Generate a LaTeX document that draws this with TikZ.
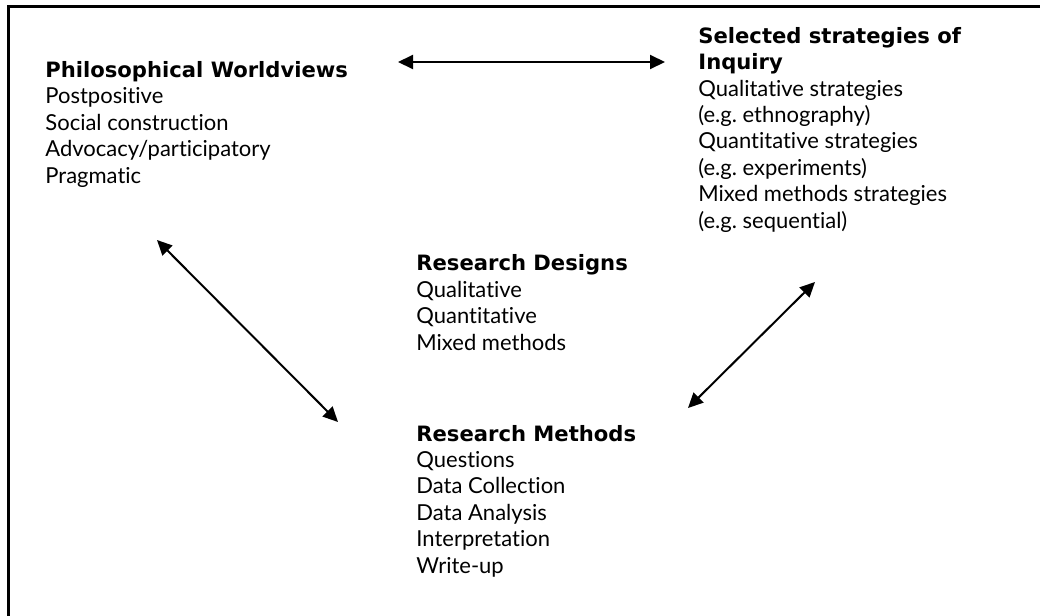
\documentclass[tikz,border=0pt]{standalone}
\usepackage{fontspec}
\setmainfont{Lato}[Ligatures=NoCommon]
\newfontfamily\titlefont{DejaVu Sans}[Scale=0.96]
\newcommand\blocktitle[1]{{\titlefont\bfseries #1}}
\usetikzlibrary{arrows.meta}

\begin{document}
\begin{tikzpicture}[x=0.5pt,y=-0.5pt,
  block/.style={anchor=base west, align=left, inner sep=0pt,
    font=\fontsize{11}{13.2}\selectfont},
  link/.style={{Triangle[length=7.5pt,width=7pt]}-{Triangle[length=7.5pt,width=7pt]},
    line width=1pt}
]
\useasboundingbox (0,0) rectangle (1040,616);
\draw[line width=1.5pt] (1050,6) -- (8,6) -- (8,626);

\node[block] (worldviews) at (45,183) {\blocktitle{Philosophical Worldviews}\\
  Postpositive\\Social construction\\Advocacy/participatory\\Pragmatic};
\node[block] (strategies) at (698,228) {\blocktitle{Selected strategies of}\\
  \blocktitle{Inquiry}\\Qualitative strategies\\(e.g.\ ethnography)\\
  Quantitative strategies\\(e.g.\ experiments)\\Mixed methods strategies\\
  (e.g.\ sequential)};
\node[block] (designs) at (416,350) {\blocktitle{Research Designs}\\
  Qualitative\\Quantitative\\Mixed methods};
\node[block] (methods) at (416,573) {\blocktitle{Research Methods}\\
  Questions\\Data Collection\\Data Analysis\\Interpretation\\Write-up};

\coordinate (wv-east) at (398,62);
\coordinate (st-west) at (665,62);
\coordinate (wv-south) at (157,240);
\coordinate (me-west) at (338,422);
\coordinate (me-east) at (688,408);
\coordinate (st-south) at (815,282);

\draw[link] (wv-east) -- (st-west);
\draw[link] (wv-south) -- (me-west);
\draw[link] (me-east) -- (st-south);
\end{tikzpicture}
\end{document}
